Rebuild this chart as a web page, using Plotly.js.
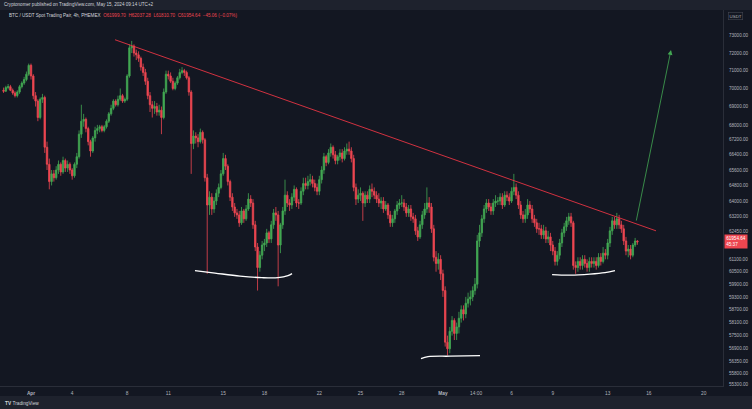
<!DOCTYPE html>
<html><head><meta charset="utf-8">
<script src="https://cdn.plot.ly/plotly-3.0.1.min.js"></script>
<style>html,body{margin:0;padding:0;background:#131722;overflow:hidden}#chart{width:752px;height:409px}</style>
</head><body><div id="chart"></div>
<script>
// ---- data: BTC/USDT 4h candles, Mar 30 00:00 -> May 15 04:00 ----
const startTime = '2024-03-30T00:00:00Z';
const stepHours = 4;

const openP = [
69900,69850,70050,70100,69900,69750,
69600,69800,70100,70300,70500,70800,
71300,70700,69600,69300,68400,69400,
69500,66800,65900,65000,65400,65200,
65600,65900,65500,66100,65700,65900,
65600,65300,65900,66300,67500,68200,
68300,67800,67100,66600,67300,67700,
67800,67900,67700,67900,68200,68600,
68900,69300,69100,69400,69600,69300,
69400,70700,72300,72400,72000,71900,
71700,71200,70900,70400,69600,69100,
68900,69000,68700,68800,68400,69800,
70800,70700,70400,70000,70300,70600,
70900,71000,70900,70600,69800,67000,
67400,67300,67100,67600,67200,65200,
63800,64200,63600,64000,64400,64700,
65400,66200,65800,65000,64200,63700,
63400,63300,62900,63500,63100,63600,
64100,63900,62800,61700,60700,61300,
61800,61900,62400,62100,62800,63400,
63300,61800,62800,63500,64300,63900,
63800,64200,64600,63900,63900,64500,
64900,64800,65000,65100,64900,64700,
64500,65100,65600,66300,66000,66500,
66800,66400,66100,66300,66500,66200,
66600,66700,66600,66200,64700,64100,
64300,64400,63900,64300,64100,64600,
64500,64300,64100,63900,64000,63600,
63800,63300,62900,63100,63500,63800,
63900,63900,63700,63400,63600,63200,
63100,62500,62200,62800,63300,63600,
63900,63700,62600,61200,60900,61100,
60400,59600,57200,56900,57700,58200,
57600,57900,58300,58700,58500,59000,
59200,59300,59600,59900,62000,62400,
63100,63600,63900,63700,63500,63900,
64000,64000,64200,63800,64300,64200,
64000,64500,64700,64300,63800,63300,
63100,63300,63800,63600,63100,62900,
62600,62600,62300,62500,62100,62200,
61800,61500,61000,61300,61900,62400,
62700,63000,63200,62900,60800,60700,
61000,60800,61100,60900,60700,61000,
60900,61000,60800,61200,61000,61400,
61300,61900,62500,63000,62800,63100,
62800,62600,62000,61500,61600,61300,
61800,61999.70];

const highP = [
70050,70150,70250,70200,70000,69850,
69900,70200,70400,70650,70950,71400,
71400,70800,69800,69400,69500,69700,
69600,67100,66200,65600,65600,65800,
66100,66000,66300,66200,66100,66000,
65700,66000,66500,67700,69100,68600,
68400,67900,67200,67400,67900,68000,
68000,68000,68000,68300,68700,69100,
69400,69400,69600,70000,69700,69500,
70800,72500,72700,72500,72200,72100,
71800,71400,71100,70600,69800,69300,
69300,69200,69100,69000,70000,71000,
71000,70900,70600,70400,70700,71100,
71200,71100,71000,70700,69900,67700,
67600,67500,67800,67700,67300,65400,
64500,64400,64200,64600,64900,65600,
66500,66400,65900,65100,64400,63900,
63600,63500,63700,63600,63800,64400,
64300,64100,63000,61900,61500,62000,
62100,62600,62500,63000,63600,63700,
63500,62900,63700,65100,64500,64100,
64400,64800,64700,64100,64700,65200,
65200,65300,65400,65300,65100,64900,
65300,65800,66500,66400,66700,67000,
66900,66600,66400,66700,66700,66800,
67000,67100,66800,66400,64900,64600,
64700,64500,64500,64500,64800,64900,
64700,64500,64400,64200,64200,64000,
63900,63500,63300,63600,64000,64100,
64300,64100,63900,63800,63800,63400,
63300,62700,63000,63500,63900,64700,
64200,63900,62800,61500,61400,61300,
60600,59800,57500,57900,58400,58300,
58100,58600,58900,58900,59300,59500,
59600,59800,60200,62300,62800,63300,
63800,64100,64100,63900,64100,64300,
64200,64400,64400,64500,64500,64400,
64700,65400,64900,64500,64000,63500,
63600,64100,64000,63800,63300,63100,
62900,62800,62800,62700,62500,62400,
62000,61700,61500,62100,62600,62900,
63200,63400,63400,63000,61000,61200,
61200,61300,61300,61100,61200,61200,
61200,61200,61400,61400,61700,61600,
62100,62700,63200,63200,63400,63300,
63000,62800,62200,61800,61800,61900,
62150,62037.28];

const lowP = [
69750,69800,69950,69850,69650,69500,
69500,69700,70000,70200,70400,70700,
70500,69400,69000,68200,68300,69200,
66500,65600,64600,64800,65000,65100,
65400,65300,65400,65500,65500,65400,
65100,65200,65700,66200,67300,67900,
67600,66900,66300,66500,67100,67500,
67600,67600,67600,67800,68100,68500,
68800,69000,69000,69300,69200,69200,
69300,70600,72000,71800,71600,71500,
71000,70700,70200,69400,68700,68400,
68600,68500,68500,67500,68300,69700,
70500,70300,69900,69900,70200,70500,
70800,70700,70500,69600,65400,66700,
67000,66800,67000,67000,65000,60400,
63300,63300,63400,63800,64200,64600,
65300,65600,64800,64000,63500,63200,
63100,62700,62800,62900,63000,63500,
63700,62600,61500,59600,60500,61100,
61500,61700,61900,61900,62600,63000,
59800,61400,62600,63300,63700,63500,
63600,64000,63700,63600,63800,64300,
64600,64600,64800,64700,64500,64300,
64300,64900,65400,65800,65900,66300,
66200,65900,65900,66100,66000,66100,
66400,66400,66000,64500,63800,63900,
64000,63000,63700,63900,63900,64200,
64100,63900,63700,63600,63400,63500,
63100,62700,62700,62900,63300,63600,
63700,63500,63200,63200,63000,62900,
62300,62000,62100,62600,63100,63400,
63400,62400,61000,60500,60600,60100,
59300,57000,56600,56700,57500,57300,
57300,57600,58100,58200,58300,58800,
58900,59100,59400,59700,61700,62200,
62900,63400,63500,63300,63300,63700,
63800,63800,63600,63700,64000,63800,
63900,64300,64100,63600,63100,62900,
62900,63100,63400,62900,62700,62400,
62300,62100,62100,61900,61900,61500,
61300,60800,60800,61100,61700,62200,
62500,62800,62700,60600,60400,60500,
60600,60600,60700,60500,60500,60700,
60700,60600,60700,60800,60900,61100,
61100,61700,62300,62600,62600,62600,
62400,61800,61300,61200,61100,61200,
61700,61810.70];

const closeP = [
69850,70050,70100,69900,69750,69600,
69800,70100,70300,70500,70800,71300,
70700,69600,69300,68400,69400,69500,
66800,65900,65000,65400,65200,65600,
65900,65500,66100,65700,65900,65600,
65300,65900,66300,67500,68200,68300,
67800,67100,66600,67300,67700,67800,
67900,67700,67900,68200,68600,68900,
69300,69100,69400,69600,69300,69400,
70700,72300,72400,72000,71900,71700,
71200,70900,70400,69600,69100,68900,
69000,68700,68800,68400,69800,70800,
70700,70400,70000,70300,70600,70900,
71000,70900,70600,69800,67000,67400,
67300,67100,67600,67200,65200,63800,
64200,63600,64000,64400,64700,65400,
66200,65800,65000,64200,63700,63400,
63300,62900,63500,63100,63600,64100,
63900,62800,61700,60700,61300,61800,
61900,62400,62100,62800,63400,63300,
61800,62800,63500,64300,63900,63800,
64200,64600,63900,63900,64500,64900,
64800,65000,65100,64900,64700,64500,
65100,65600,66300,66000,66500,66800,
66400,66100,66300,66500,66200,66600,
66700,66600,66200,64700,64100,64300,
64400,63900,64300,64100,64600,64500,
64300,64100,63900,64000,63600,63800,
63300,62900,63100,63500,63800,63900,
63900,63700,63400,63600,63200,63100,
62500,62200,62800,63300,63600,63900,
63700,62600,61200,60900,61100,60400,
59600,57200,56900,57700,58200,57600,
57900,58300,58700,58500,59000,59200,
59300,59600,59900,62000,62400,63100,
63600,63900,63700,63500,63900,64000,
64000,64200,63800,64300,64200,64000,
64500,64700,64300,63800,63300,63100,
63300,63800,63600,63100,62900,62600,
62600,62300,62500,62100,62200,61800,
61500,61000,61300,61900,62400,62700,
63000,63200,62900,60800,60700,61000,
60800,61100,60900,60700,61000,60900,
61000,60800,61200,61000,61400,61300,
61900,62500,63000,62800,63100,62800,
62600,62000,61500,61600,61300,61800,
61999.70,61954.64];

// price-axis ticks
const yTickVals = [73000,72000,71000,70000,69000,68000,67200,66400,65600,64800,64000,63200,62450,61100,60500,59900,59300,58700,58100,57500,56900,56350,55800,55300];
// time-axis ticks
const xTickVals = ['2024-04-01','2024-04-04','2024-04-08','2024-04-11','2024-04-15','2024-04-18','2024-04-22','2024-04-25','2024-04-28','2024-05-01','2024-05-03 10:00','2024-05-06','2024-05-09','2024-05-13','2024-05-16','2024-05-20'];
const xTickText = ['<b>Apr</b>','4','8','11','15','18','22','25','28','<b>May</b>','14:00','6','9','13','16','20'];

// drawings (time, price)
const trendX = ['2024-04-07 02:50','2024-05-16 12:30'];
const trendY = [72768, 62502];
const arrowX = ['2024-05-15 01:32','2024-05-17 14:40'];
const arrowY = [62939, 72174];
const base1X = ['2024-04-12 22:35','2024-04-14 09:40','2024-04-16 05:20','2024-04-17 19:40','2024-04-18 23:45','2024-04-19 17:15','2024-04-20 00:15'];
const base1Y = [60554, 60433, 60289, 60216, 60216, 60313, 60409];
const base2X = ['2024-04-29 09:40','2024-04-29 22:00','2024-05-01 12:30','2024-05-03 16:50'];
const base2Y = [56455, 56546, 56568, 56590];
const base3X = ['2024-05-08 22:50','2024-05-10 06:10','2024-05-11 17:00','2024-05-12 19:25','2024-05-13 12:45'];
const base3Y = [60360, 60336, 60384, 60456, 60554];

const lastPrice = 61954.64;

// ---- build ----
const t0 = Date.parse(startTime);
const times = closeP.map((_, i) => new Date(t0 + i * stepHours * 3600000).toISOString().slice(0, 16).replace('T', ' '));

const GREEN = '#43a853', RED = '#ee4650';
const FONT = 'Liberation Sans, Arial, sans-serif';

const traces = [
  {
    type: 'candlestick', x: times, open: openP, high: highP, low: lowP, close: closeP,
    increasing: {line: {color: GREEN, width: 0.8}, fillcolor: GREEN},
    decreasing: {line: {color: RED, width: 0.8}, fillcolor: RED},
    whiskerwidth: 0, hoverinfo: 'skip'
  },
  {type: 'scatter', mode: 'lines', x: trendX, y: trendY, line: {color: 'rgba(242,54,69,0.85)', width: 1}, hoverinfo: 'skip'},
  {type: 'scatter', mode: 'lines', x: base1X, y: base1Y, line: {color: '#ffffff', width: 1.4, shape: 'spline'}, hoverinfo: 'skip'},
  {type: 'scatter', mode: 'lines', x: base2X, y: base2Y, line: {color: '#ffffff', width: 1.4, shape: 'spline'}, hoverinfo: 'skip'},
  {type: 'scatter', mode: 'lines', x: base3X, y: base3Y, line: {color: '#ffffff', width: 1.4, shape: 'spline'}, hoverinfo: 'skip'}
];

const plotH = 409 - 10 - 23, plotW = 723;
const layout = {
  width: 752, height: 409,
  margin: {l: 0, r: 29, t: 10, b: 23, pad: 0},
  paper_bgcolor: '#131722', plot_bgcolor: '#131722',
  showlegend: false, dragmode: false,
  boxgap: 0.3, boxgroupgap: 0.1,
  font: {family: FONT, color: '#b2b5be', size: 4.5},
  xaxis: {
    type: 'date', range: ['2024-03-29 17:48', '2024-05-21 09:36'],
    rangeslider: {visible: false}, tickmode: 'array', tickvals: xTickVals, ticktext: xTickText,
    tickfont: {family: FONT, size: 4.8, color: '#b2b5be'}, showgrid: false, zeroline: false,
    showline: true, linecolor: '#2a2e39', linewidth: 1, ticks: 'outside', ticklen: 2, tickcolor: 'rgba(0,0,0,0)'
  },
  yaxis: {
    type: 'log', side: 'right', range: [Math.log10(55240), Math.log10(74511)],
    tickmode: 'array', tickvals: yTickVals, ticktext: yTickVals.map(v => v.toFixed(2)),
    tickfont: {family: FONT, size: 4.6, color: '#b2b5be'}, showgrid: false, zeroline: false,
    showline: true, linecolor: '#2a2e39', linewidth: 1, ticks: 'outside', ticklen: 4, tickcolor: 'rgba(0,0,0,0)'
  },
  shapes: [
    {type: 'rect', xref: 'paper', yref: 'paper', x0: 0, x1: 752 / plotW, y0: 1, y1: 1 + 10 / plotH, fillcolor: '#1e222d', line: {width: 0}, layer: 'below'},
    {type: 'rect', xref: 'paper', yref: 'paper', x0: 0, x1: 752 / plotW, y0: -10 / plotH, y1: -23 / plotH, fillcolor: '#1e222d', line: {width: 0}, layer: 'below'}
  ],
  annotations: [
    {xref: 'paper', yref: 'paper', x: 2 / plotW, y: 1 + 5 / plotH, xanchor: 'left', yanchor: 'middle', showarrow: false,
     text: 'Cryptonomer published on TradingView.com, May 15, 2024 09:14 UTC+2', font: {family: FONT, size: 4.6, color: '#d1d4dc'}},
    {xref: 'paper', yref: 'paper', x: 7 / plotW, y: 1 - 5 / plotH, xanchor: 'left', yanchor: 'middle', showarrow: false,
     text: 'BTC / USDT Spot Trading Pair, 4h, PHEMEX  <span style="color:' + RED + '">O' + openP[openP.length - 1].toFixed(2) + '  H' + highP[highP.length - 1].toFixed(2) + '  L' + lowP[lowP.length - 1].toFixed(2) + '  C' + closeP[closeP.length - 1].toFixed(2) + '  \u221245.06 (\u22120.07%)</span>',
     font: {family: FONT, size: 4.6, color: '#d1d4dc'}},
    {xref: 'paper', yref: 'paper', x: 1 + 5 / plotW, y: 1 - 6 / plotH, xanchor: 'left', yanchor: 'middle', showarrow: false,
     text: 'USDT', font: {family: FONT, size: 4.4, color: '#b2b5be'}, bordercolor: '#434651', borderwidth: 0.6, borderpad: 1},
    {xref: 'paper', yref: 'y', x: 1 + 1 / plotW, y: Math.log10(lastPrice), xanchor: 'left', yanchor: 'middle', showarrow: false,
     text: lastPrice.toFixed(2) + '<br>45:37', align: 'left', bgcolor: RED, borderpad: 1.2,
     font: {family: FONT, size: 4.6, color: '#ffffff'}},
    {xref: 'x', yref: 'y', axref: 'x', ayref: 'y', x: arrowX[1], y: Math.log10(arrowY[1]), ax: arrowX[0], ay: Math.log10(arrowY[0]),
     showarrow: true, arrowhead: 2, arrowsize: 1.2, arrowwidth: 0.8, arrowcolor: GREEN, text: ''},
    {xref: 'paper', yref: 'paper', x: 3 / plotW, y: -17 / plotH, xanchor: 'left', yanchor: 'middle', showarrow: false,
     text: '<b>TV</b> TradingView', font: {family: FONT, size: 4.8, color: '#d1d4dc'}}
  ]
};

Plotly.newPlot('chart', traces, layout, {displayModeBar: false, staticPlot: true});
</script>
</body></html>
